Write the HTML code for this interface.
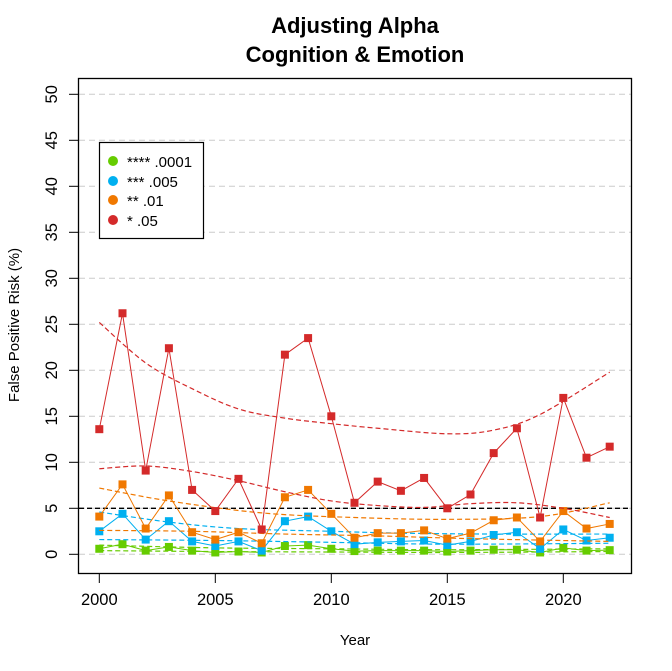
<!DOCTYPE html>
<html><head><meta charset="utf-8"><style>
html,body{margin:0;padding:0;background:#fff;}
svg{display:block;font-family:"Liberation Sans",Arial,sans-serif;}
</style></head><body>
<svg id="s" width="672" height="671" viewBox="0 0 672 671" xmlns="http://www.w3.org/2000/svg">
<rect width="672" height="671" fill="#fff"/>
<text x="355" y="33" font-size="22" font-weight="bold" text-anchor="middle">Adjusting Alpha</text>
<text x="355" y="62" font-size="22" font-weight="bold" text-anchor="middle">Cognition &amp; Emotion</text>
<g id="grid"></g>
<g id="data"></g>
<rect x="78.5" y="78.5" width="553" height="495" fill="none" stroke="#000" stroke-width="1.3"/>
<g id="axes" font-size="16.5"></g>
<text x="355" y="645" font-size="15" text-anchor="middle">Year</text>
<text transform="translate(19,325) rotate(-90)" font-size="15" text-anchor="middle">False Positive Risk (%)</text>
<rect x="99.5" y="142.5" width="104" height="96" fill="#fff" stroke="#000" stroke-width="1.2"/>
<g font-size="15">
<circle cx="113" cy="161" r="5" fill="#66cc00"/><text x="127" y="167">**** .0001</text>
<circle cx="113" cy="181" r="5" fill="#00b0f0"/><text x="127" y="187">*** .005</text>
<circle cx="113" cy="200" r="5" fill="#f07800"/><text x="127" y="206">** .01</text>
<circle cx="113" cy="220" r="5" fill="#d42a2a"/><text x="127" y="226">* .05</text>
</g>
</svg>
<script>
const NS="http://www.w3.org/2000/svg";
const X=y=>99.3+23.2*(y-2000), Y=v=>554.3-9.2*v;
function el(p,t,a){const e=document.createElementNS(NS,t);for(const k in a)e.setAttribute(k,a[k]);p.appendChild(e);return e;}
const g=document.getElementById('grid'),d=document.getElementById('data'),ax=document.getElementById('axes');
for(let v=0;v<=50;v+=5){el(g,'line',{x1:79,x2:631,y1:Y(v),y2:Y(v),stroke:'#cccccc','stroke-dasharray':'6,4','stroke-width':1});
 el(ax,'line',{x1:69,x2:78,y1:Y(v),y2:Y(v),stroke:'#000'});
 const t=el(ax,'text',{transform:`translate(57,${Y(v)}) rotate(-90)`,'text-anchor':'middle'});t.textContent=v;}
for(let y=2000;y<=2020;y+=5){el(ax,'line',{x1:X(y),x2:X(y),y1:573,y2:583,stroke:'#000'});
 const t=el(ax,'text',{x:X(y),y:605,'text-anchor':'middle'});t.textContent=y;}
el(g,'line',{x1:79,x2:631,y1:Y(5),y2:Y(5),stroke:'#000','stroke-dasharray':'5,3','stroke-width':1.3});
const yrs=[...Array(23).keys()].map(i=>2000+i);
const S=[
 {c:'#66cc00',v:[0.6,1.1,0.4,0.8,0.4,0.2,0.3,0.2,0.9,1.0,0.6,0.35,0.4,0.4,0.4,0.3,0.4,0.5,0.5,0.2,0.7,0.4,0.45],
  f:[[[2000,1.0],[2005,0.7],[2010,0.6],[2015,0.5],[2022,0.6]],[[2000,0.4],[2005,0.3],[2010,0.25],[2015,0.2],[2022,0.3]]]},
 {c:'#00b0f0',v:[2.5,4.4,1.6,3.6,1.4,0.9,1.4,0.4,3.6,4.1,2.5,1.1,1.3,1.4,1.5,1.0,1.4,2.1,2.4,0.6,2.7,1.5,1.8],
  f:[[[2000,4.6],[2003,3.5],[2006,2.8],[2010,2.5],[2013,2.3],[2017,2.2],[2022,2.2]],[[2000,1.6],[2005,1.5],[2010,1.3],[2015,1.1],[2022,1.2]]]},
 {c:'#f07800',v:[4.1,7.6,2.8,6.4,2.4,1.6,2.4,1.2,6.2,7.0,4.4,1.8,2.3,2.3,2.6,1.7,2.3,3.7,4.0,1.4,4.7,2.8,3.3],
  f:[[[2000,7.2],[2003,5.8],[2007,4.5],[2011,4.0],[2015,3.8],[2019,4.1],[2022,5.6]],[[2000,2.6],[2004,2.5],[2008,2.2],[2012,2.0],[2016,1.7],[2022,1.4]]]},
 {c:'#d42a2a',v:[13.6,26.2,9.1,22.4,7.0,4.7,8.2,2.7,21.7,23.5,15.0,5.6,7.9,6.9,8.3,5.0,6.5,11.0,13.7,4.0,17.0,10.5,11.7],
  f:[[[2000,25.2],[2002,20.8],[2004,18],[2006,15.8],[2008,14.8],[2010,14.2],[2012,13.7],[2015,13.1],[2017,13.5],[2019,15.2],[2022,19.8]],
     [[2000,9.3],[2002,9.6],[2004,9.0],[2006,8.0],[2008,6.8],[2010,5.8],[2012,5.3],[2014,5.1],[2016,5.5],[2018,5.6],[2020,5.0],[2022,4.0]]]}
];
function smooth(pts){let s=`M${X(pts[0][0])},${Y(pts[0][1])}`;
 for(let i=0;i<pts.length-1;i++){const p0=pts[Math.max(0,i-1)],p1=pts[i],p2=pts[i+1],p3=pts[Math.min(pts.length-1,i+2)];
  const c1=[X(p1[0])+(X(p2[0])-X(p0[0]))/6,Y(p1[1])+(Y(p2[1])-Y(p0[1]))/6],c2=[X(p2[0])-(X(p3[0])-X(p1[0]))/6,Y(p2[1])-(Y(p3[1])-Y(p1[1]))/6];
  s+=`C${c1},${c2},${X(p2[0])},${Y(p2[1])}`;}return s;}
for(const s of S){
 for(const f of s.f) el(d,'path',{d:smooth(f),fill:'none',stroke:s.c,'stroke-dasharray':'5,3','stroke-width':1.2});
 el(d,'polyline',{points:yrs.map((y,i)=>X(y)+','+Y(s.v[i])).join(' '),fill:'none',stroke:s.c,'stroke-width':1});
 yrs.forEach((y,i)=>el(d,'rect',{x:X(y)-4,y:Y(s.v[i])-4,width:8,height:8,fill:s.c}));
}
</script>
</body></html>
